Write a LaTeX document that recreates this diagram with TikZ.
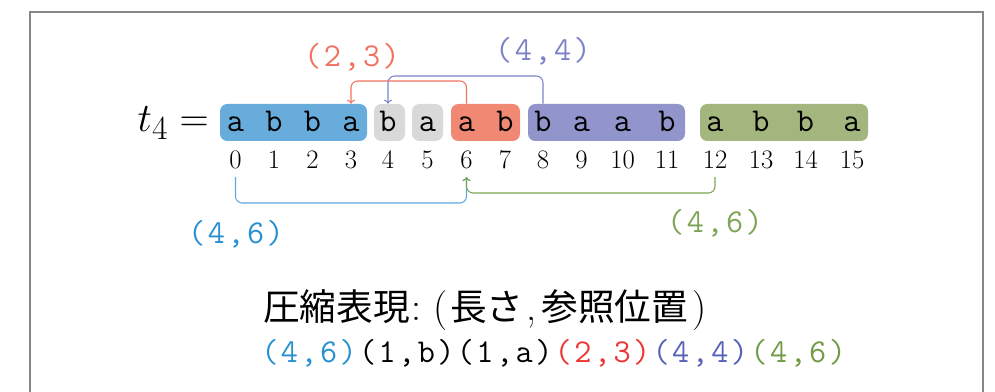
\documentclass[tikz,border=0pt]{standalone}
\usepackage{fontspec}
\usetikzlibrary{arrows.meta}
\newfontfamily\jpfont{Noto Sans CJK JP}
\newfontfamily\lbltt[LetterSpace=7.3]{Latin Modern Mono}
\newfontfamily\chartt{Latin Modern Mono}
\definecolor{bxblue}{RGB}{104,172,220}
\definecolor{bxgray}{RGB}{217,217,217}
\definecolor{bxred}{RGB}{240,136,116}
\definecolor{bxpurp}{RGB}{145,149,204}
\definecolor{bxgreen}{RGB}{163,182,126}
\definecolor{lnred}{RGB}{241,114,94}
\definecolor{lnpurp}{RGB}{125,130,200}
\definecolor{lnblue}{RGB}{95,168,222}
\definecolor{lngreen}{RGB}{125,165,85}
\definecolor{lbblue}{RGB}{40,145,210}
\definecolor{lbred}{RGB}{236,55,52}
\definecolor{lbpurp}{RGB}{88,98,182}
\definecolor{lbgreen}{RGB}{115,155,70}
\definecolor{framegray}{RGB}{135,135,135}
\newcommand{\gk}{\kern1.7pt}
\newcommand{\jpk}[1]{{\jpfont\fontsize{27.5}{33}\selectfont #1}}
\tikzset{
  x=0.75pt, y=-0.75pt,
  seg/.style={rounded corners=5.5pt, inner sep=0pt, minimum height=27.75pt},
  chr/.style={anchor=base, inner sep=0pt, font=\chartt\fontsize{25}{30}\selectfont},
  idx/.style={anchor=base, inner sep=0pt, font=\fontsize{20}{24}\selectfont},
  lbl/.style={anchor=base, inner sep=0pt, font=\lbltt\fontsize{25}{30}\selectfont},
  conn/.style={line width=0.8pt, rounded corners=5pt, -{To[length=3pt,width=6pt]}},
}
\begin{document}
\begin{tikzpicture}
\useasboundingbox (0,0) rectangle (995,392);
\draw[framegray, line width=0.9pt] (30,392) -- (30,12) -- (983,12) -- (983,392);

% segment boxes
\node[seg, fill=bxblue,  minimum width=110.25pt] (bblue) at (293.5,122.5) {};
\node[seg, fill=bxgray,  minimum width=23.25pt]  (bg4)   at (389.5,122.5) {};
\node[seg, fill=bxgray,  minimum width=23.25pt]  (bg5)   at (427.5,122.5) {};
\node[seg, fill=bxred,   minimum width=51.75pt]  (bred)  at (485.5,122.5) {};
\node[seg, fill=bxpurp,  minimum width=117.75pt] (bpurp) at (606.5,122.5) {};
\node[seg, fill=bxgreen, minimum width=126pt]    (bgreen) at (784,122.5) {};

% t_4 =
\node[anchor=base east, inner sep=0pt, scale=1.22, font=\fontsize{24.88}{30}\selectfont] (t4) at (209,132) {$t_4 =$};

% characters and indices
\foreach \i/\x/\c in {0/235.5/a,1/274/b,2/312.5/b,3/351/a,4/388/b,5/427.5/a,6/466.5/a,7/505/b,
                      8/543/b,9/581.5/a,10/622.5/a,11/667/b,12/715/a,13/761/b,14/805.5/b,15/852/a}{
  \node[chr] (c\i) at (\x,132) {\c};
  \node[idx] (n\i) at (\x,168) {\i};
}

% helper rows
\coordinate (redrow) at (0,81);
\coordinate (purprow) at (0,76);
\coordinate (digbot) at (0,177);
\coordinate (lowA) at (0,203);
\coordinate (lowB) at (0,193);

% upper connectors
\draw[conn, lnred] (c6 |- bred.north) |- (c3 |- redrow) -- (c3 |- bblue.north);
\draw[conn, lnpurp] (c8 |- bpurp.north) |- (c4 |- purprow) -- (c4 |- bg4.north);

% lower connectors
\draw[conn, lnblue] (n0 |- digbot) |- (n6 |- lowA) -- (n6 |- digbot);
\draw[conn, lngreen] (n12 |- digbot) |- (n6 |- lowB) -- (n6 |- digbot);

% labels
\node[lbl, text=lnred] (l23) at (352,67) {(2,3)};
\node[lbl, text=lnpurp] (l44) at (543,61) {(4,4)};
\node[lbl, text=lbblue] (l46a) at (236,243) {(4,6)};
\node[lbl, text=lngreen] (l46b) at (715,232) {(4,6)};

% bottom text
\node[anchor=base west, inner sep=0pt, font=\fontsize{30}{36}\selectfont] (legend) at (263,320)
  {\jpk{圧縮表現}\kern1pt:\kern9pt(\kern2pt\jpk{長さ}\kern2pt,\kern4pt\jpk{参照位置}\kern3pt)};
\node[anchor=base west, inner sep=0pt, font=\lbltt\fontsize{25}{30}\selectfont] (code) at (261,362)
  {\textcolor{lbblue}{(4,6)}\gk(1,b)\gk(1,a)\gk\textcolor{lbred}{(2,3)}\gk\textcolor{lbpurp}{(4,4)}\gk\textcolor{lbgreen}{(4,6)}};
\end{tikzpicture}
\end{document}
